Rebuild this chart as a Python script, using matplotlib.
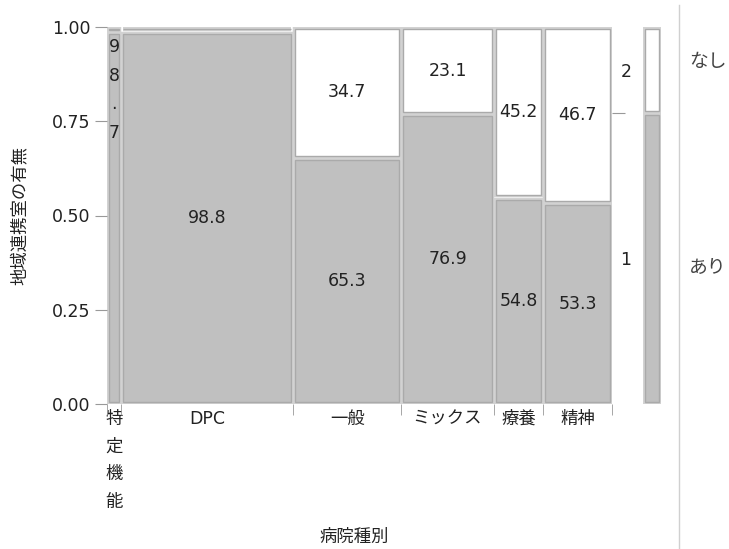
import numpy as np
import matplotlib.pyplot as plt
import matplotlib.patheffects as pe
from matplotlib.patches import Rectangle
from matplotlib.lines import Line2D

plt.rcParams['font.family'] = ['DejaVu Sans', 'Noto Sans CJK JP']

# data read from the mosaic
categories = ['特\n定\n機\n能', 'DPC', '一般', 'ミックス', '療養', '精神']
col_share = [0.028, 0.341, 0.214, 0.184, 0.097, 0.137]   # column widths (share of hospitals)
ari_pct = [98.7, 98.8, 65.3, 76.9, 54.8, 53.3]           # 地域連携室 あり (%)
nashi_pct = [1.3, 1.2, 34.7, 23.1, 45.2, 46.7]           # なし (%)
ari_total = 77.2                                        # marginal あり (%)

GRAY = '#c0c0c0'
EDGE = '#aaaaaa'
TXT = '#222222'
FS = 12.5

fig = plt.figure(figsize=(7.29, 5.49), dpi=100)
W, H = 729, 549
ax = fig.add_axes([107 / W, 1 - 404 / H, 505 / W, 377 / H])

shares = np.array(col_share) / np.sum(col_share)
edges = np.concatenate([[0], np.cumsum(shares)])
gx = 4.5 / 505
gy = 4.5 / 377


def cell(a, x0, x1, y0, y1, color, gx, gy):
    r = Rectangle((x0 + gx / 2, y0 + gy / 2), x1 - x0 - gx, y1 - y0 - gy,
                  facecolor=color, edgecolor=EDGE, lw=1.0)
    r.set_path_effects([pe.Stroke(linewidth=3.2, foreground='#d2d2d2'), pe.Normal()])
    a.add_patch(r)


for i in range(len(categories)):
    x0, x1 = edges[i], edges[i + 1]
    p = ari_pct[i] / 100
    cell(ax, x0, x1, 0, p, GRAY, gx, gy)
    cell(ax, x0, x1, p, 1, 'white', gx, gy)
    xc = (x0 + x1) / 2
    if i == 0:
        ax.text(xc, 0.97, '9\n8\n.\n7', ha='center', va='top', fontsize=FS,
                color=TXT, linespacing=1.75)
        continue
    ax.text(xc, p / 2, f'{ari_pct[i]:.1f}', ha='center', va='center', fontsize=FS, color=TXT)
    if nashi_pct[i] > 5:
        ax.text(xc, (1 + p) / 2, f'{nashi_pct[i]:.1f}', ha='center', va='center',
                fontsize=FS, color=TXT)

ax.set_xlim(0, 1)
ax.set_ylim(0, 1)
for s in ax.spines.values():
    s.set_visible(False)

ax.set_yticks([0, 0.25, 0.5, 0.75, 1.0])
ax.set_yticklabels(['0.00', '0.25', '0.50', '0.75', '1.00'])
ax.tick_params(axis='y', length=9, color='#999999', labelsize=FS, labelcolor=TXT, pad=3)

ax.set_xticks((edges[:-1] + edges[1:]) / 2)
ax.set_xticklabels(categories)
ax.set_xticks(edges, minor=True)
ax.tick_params(axis='x', which='major', length=0, labelsize=FS, labelcolor=TXT, pad=4)
ax.tick_params(axis='x', which='minor', length=8, color='#999999')
ax.get_xticklabels()[0].set_linespacing(1.7)

ax.set_ylabel('地域連携室の有無', fontsize=FS, color=TXT)
ax.yaxis.set_label_coords(-0.155, 0.5)
ax.set_xlabel('病院種別', fontsize=FS, color=TXT)
ax.xaxis.set_label_coords(0.49, -0.33)

# right axis: level codes
ax2 = ax.twinx()
ax2.set_ylim(0, 1)
for s in ax2.spines.values():
    s.set_visible(False)
ax2.set_yticks([ari_total / 100])
ax2.set_yticklabels([''])
ax2.tick_params(axis='y', length=9, color='#999999')
ax2.set_yticks([ari_total / 200, (1 + ari_total / 100) / 2], minor=True)
ax2.set_yticklabels(['1', '2'], minor=True)
ax2.tick_params(axis='y', which='minor', length=0, labelsize=FS, labelcolor=TXT, pad=6)

# marginal bar
axm = fig.add_axes([643 / W, 1 - 404 / H, 18 / W, 377 / H])
axm.set_xlim(0, 1)
axm.set_ylim(0, 1)
axm.axis('off')
cell(axm, 0, 1, 0, ari_total / 100, GRAY, 0.25, gy)
cell(axm, 0, 1, ari_total / 100, 1, 'white', 0.25, gy)

# legend area
fig.add_artist(Line2D([679 / W, 679 / W], [0, 1 - 5 / H], color='#d0d0d0', lw=1))
fig.text(689 / W, 1 - 62 / H, 'なし', fontsize=13.5, color='#444444', va='center')
fig.text(689 / W, 1 - 268 / H, 'あり', fontsize=13.5, color='#444444', va='center')

fig.savefig('out.png', dpi=100)
